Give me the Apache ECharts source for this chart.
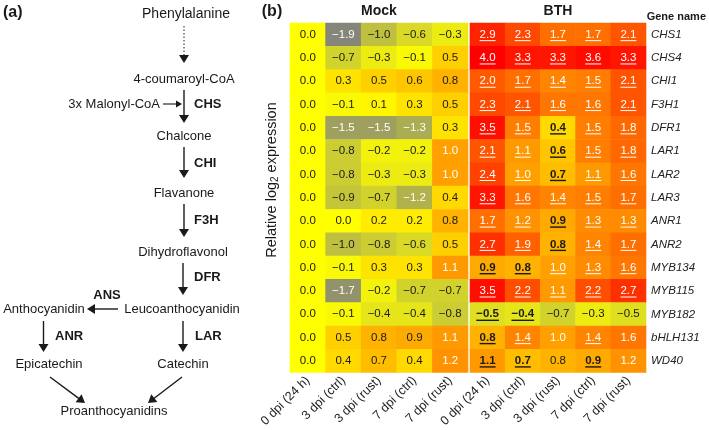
<!DOCTYPE html>
<html><head><meta charset="utf-8">
<script src="https://cdn.jsdelivr.net/npm/echarts@6/dist/echarts.min.js"></script>
<style>html,body{margin:0;padding:0;background:#fff}#c{width:709px;height:430px}</style>
</head><body><div id="c"></div>
<script>
// ---------- data ----------
const genes = ['CHS1','CHS4','CHI1','F3H1','DFR1','LAR1','LAR2','LAR3','ANR1','ANR2','MYB134','MYB115','MYB182','bHLH131','WD40'];
const timepoints = ['0 dpi (24 h)','3 dpi (ctrl)','3 dpi (rust)','7 dpi (ctrl)','7 dpi (rust)'];
const groups = ['Mock','BTH'];
const mockValues = [
  [0.0,-1.9,-1.0,-0.6,-0.3],
  [0.0,-0.7,-0.3,-0.1, 0.5],
  [0.0, 0.3, 0.5, 0.6, 0.8],
  [0.0,-0.1, 0.1, 0.3, 0.5],
  [0.0,-1.5,-1.5,-1.3, 0.3],
  [0.0,-0.8,-0.2,-0.2, 1.0],
  [0.0,-0.8,-0.3,-0.3, 1.0],
  [0.0,-0.9,-0.7,-1.2, 0.4],
  [0.0, 0.0, 0.2, 0.2, 0.8],
  [0.0,-1.0,-0.8,-0.6, 0.5],
  [0.0,-0.1, 0.3, 0.3, 1.1],
  [0.0,-1.7,-0.2,-0.7,-0.7],
  [0.0,-0.1,-0.4,-0.4,-0.8],
  [0.0, 0.5, 0.8, 0.9, 1.1],
  [0.0, 0.4, 0.7, 0.4, 1.2]
];
const bthValues = [
  [2.9, 2.3, 1.7, 1.7, 2.1],
  [4.0, 3.3, 3.3, 3.6, 3.3],
  [2.0, 1.7, 1.4, 1.5, 2.1],
  [2.3, 2.1, 1.6, 1.6, 2.1],
  [3.5, 1.5, 0.4, 1.5, 1.8],
  [2.1, 1.1, 0.6, 1.5, 1.8],
  [2.4, 1.0, 0.7, 1.1, 1.6],
  [3.3, 1.6, 1.4, 1.5, 1.7],
  [1.7, 1.2, 0.9, 1.3, 1.3],
  [2.7, 1.9, 0.8, 1.4, 1.7],
  [0.9, 0.8, 1.0, 1.3, 1.6],
  [3.5, 2.2, 1.1, 2.2, 2.7],
  [-0.5,-0.4,-0.7,-0.3,-0.5],
  [0.8, 1.4, 1.0, 1.4, 1.6],
  [1.1, 0.7, 0.8, 0.9, 1.2]
];
// significance class: 0 none, 1 significant (light mark), 2 significant (dark bold mark)
const bthSignificance = [
  [1,1,1,1,1],
  [1,1,1,1,1],
  [1,1,1,1,1],
  [1,1,1,1,1],
  [1,1,2,1,1],
  [1,1,2,1,1],
  [1,1,2,1,1],
  [1,1,1,1,1],
  [1,1,2,1,1],
  [1,1,2,1,1],
  [2,2,1,1,1],
  [1,1,1,1,1],
  [2,2,0,0,0],
  [2,1,0,1,0],
  [2,2,0,2,0]
];

// ---------- helpers ----------
function toItems(values, sig) {
  const out = [];
  values.forEach((row, r) => row.forEach((v, c) => out.push([c, r, v, sig ? sig[r][c] : 0])));
  return out;
}
const FONT = '"Liberation Sans", Arial, sans-serif';
const mctx = document.createElement('canvas').getContext('2d');
function tw(str, font) { mctx.font = font; return mctx.measureText(str).width; }
function fmt(v) { return (v < 0 ? '\u2212' : '') + Math.abs(v).toFixed(1); }

function renderCell(params, api) {
  const col = api.value(0), row = api.value(1), v = api.value(2), sig = api.value(3);
  const c = api.coord([col, row]);
  const s = api.size([1, 1]);
  const color = api.visual('color');
  const label = fmt(v);
  let fill, bold = false, under = false;
  if (sig === 2) { fill = '#1a1a1a'; bold = true; under = true; }
  else if (sig === 1) { fill = '#ffffff'; under = true; }
  else fill = (v >= 1.0 || v <= -1.1) ? '#ffffff' : '#1a1a1a';
  const fsize = 11.5;
  const font = (bold ? 'bold ' : '') + fsize + 'px ' + FONT;
  const children = [
    { type: 'rect', shape: { x: c[0] - s[0] / 2 - 0.3, y: c[1] - s[1] / 2 - 0.3, width: s[0] + 0.6, height: s[1] + 0.6 },
      style: { fill: color } },
    { type: 'text', style: { text: label, x: c[0], y: c[1], font: font, fill: fill, align: 'center', verticalAlign: 'middle' } }
  ];
  if (under) {
    const w = tw(label, font);
    const uy = c[1] + 6;
    children.push({ type: 'line', shape: { x1: c[0] - w / 2, y1: uy, x2: c[0] + w / 2, y2: uy },
      style: { stroke: fill, lineWidth: bold ? 1.4 : 1 } });
  }
  return { type: 'group', children: children };
}

// ---------- pathway diagram (panel a) ----------
const INK = '#1a1a1a';
function txt(t, x, y, o) {
  o = o || {};
  return { type: 'text', silent: true, style: { text: t, x: x, y: y, fill: INK,
    font: (o.bold ? 'bold ' : '') + (o.size || 13) + 'px ' + FONT, align: o.align || 'center', verticalAlign: 'middle' } };
}
function arrow(x1, y1, x2, y2, o) {
  o = o || {};
  const len = o.head || 8, hw = o.hw || 5;
  const dx = x2 - x1, dy = y2 - y1, L = Math.hypot(dx, dy), ux = dx / L, uy = dy / L;
  const bx = x2 - ux * len, by = y2 - uy * len;
  return [
    { type: 'line', silent: true, shape: { x1: x1, y1: y1, x2: bx + ux, y2: by + uy },
      style: { stroke: INK, lineWidth: o.lw || 1.4, lineDash: o.dash || null } },
    { type: 'polygon', silent: true, shape: { points: [[x2, y2], [bx - uy * hw, by + ux * hw], [bx + uy * hw, by - ux * hw]] },
      style: { fill: INK } }
  ];
}
const diagram = [].concat(
  [txt('(a)', 3, 13, { bold: true, size: 16, align: 'left' })],
  [txt('Phenylalanine', 186, 14, { size: 14 })],
  arrow(184, 26, 184, 63, { dash: [1.5, 2], lw: 1 }),
  [txt('4-coumaroyl-CoA', 184, 79)],
  arrow(184, 90, 184, 123),
  [txt('CHS', 194, 104, { bold: true, align: 'left' })],
  [txt('3x Malonyl-CoA', 160, 104, { align: 'right' })],
  arrow(163, 104, 182, 104, { lw: 1.1, head: 6, hw: 3.5 }),
  [txt('Chalcone', 184, 136)],
  arrow(184, 147, 184, 178),
  [txt('CHI', 194, 163, { bold: true, align: 'left' })],
  [txt('Flavanone', 184, 193)],
  arrow(184, 204, 184, 237),
  [txt('F3H', 194, 220, { bold: true, align: 'left' })],
  [txt('Dihydroflavonol', 183, 252)],
  arrow(183, 263, 183, 295),
  [txt('DFR', 194, 277, { bold: true, align: 'left' })],
  [txt('Leucoanthocyanidin', 182, 309)],
  arrow(118, 309, 87, 309),
  [txt('ANS', 107, 295, { bold: true })],
  [txt('Anthocyanidin', 44, 309)],
  arrow(43.5, 321, 43.5, 352),
  [txt('ANR', 55, 336, { bold: true, align: 'left' })],
  arrow(183, 321, 183, 352),
  [txt('LAR', 195, 336, { bold: true, align: 'left' })],
  [txt('Epicatechin', 49, 364)],
  [txt('Catechin', 183, 364)],
  arrow(50, 377, 85, 403),
  arrow(182, 377, 148, 403),
  [txt('Proanthocyanidins', 114, 411)],
  // panel b labels
  [txt('(b)', 272, 12, { bold: true, size: 16 })],
  [txt(groups[0], 379, 11, { bold: true, size: 14 })],
  [txt(groups[1], 558, 11, { bold: true, size: 14 })],
  [txt('Gene name', 706, 17, { bold: true, size: 11, align: 'right' })],
  [{ type: 'text', silent: true, x: 272, y: 180, rotation: Math.PI / 2,
     style: { text: 'Relative log{s|2} expression', fill: INK, font: '14.5px ' + FONT,
       align: 'center', verticalAlign: 'middle',
       rich: { s: { fontSize: 10, fontFamily: FONT, verticalAlign: 'bottom', padding: [6, 0, 0, 0] } } } }]
);

// ---------- chart ----------
const chart = echarts.init(document.getElementById('c'), null, { renderer: 'canvas' });
const xAxisCommon = {
  type: 'category', data: timepoints,
  axisLine: { show: false }, axisTick: { show: false }, splitLine: { show: false },
  axisLabel: { rotate: 45, interval: 0, fontSize: 12.5, fontFamily: FONT, color: '#222', margin: 6 }
};
chart.setOption({
  animation: false,
  backgroundColor: '#ffffff',
  grid: [
    { left: 290, top: 23, width: 178, height: 350 },
    { left: 470, top: 23, width: 176, height: 350 }
  ],
  xAxis: [
    Object.assign({ gridIndex: 0 }, xAxisCommon),
    Object.assign({ gridIndex: 1 }, xAxisCommon)
  ],
  yAxis: [
    { gridIndex: 0, type: 'category', data: genes, inverse: true,
      axisLine: { show: false }, axisTick: { show: false }, axisLabel: { show: false }, splitLine: { show: false } },
    { gridIndex: 1, type: 'category', data: genes, inverse: true, position: 'right',
      axisLine: { show: false }, axisTick: { show: false }, splitLine: { show: false },
      axisLabel: { fontStyle: 'italic', fontSize: 11.5, fontFamily: FONT, color: '#222', margin: 5, align: 'left' } }
  ],
  visualMap: {
    type: 'continuous', show: false, min: -2, max: 4, dimension: 2, seriesIndex: [0, 1],
    inRange: { color: ['#7f7f7f', '#bfbf40', '#ffff00', '#ffa000', '#ff5a00', '#ff1e00', '#ff0000'] }
  },
  series: [
    { type: 'custom', name: groups[0], xAxisIndex: 0, yAxisIndex: 0, renderItem: renderCell,
      encode: { x: 0, y: 1 }, data: toItems(mockValues, null) },
    { type: 'custom', name: groups[1], xAxisIndex: 1, yAxisIndex: 1, renderItem: renderCell,
      encode: { x: 0, y: 1 }, data: toItems(bthValues, bthSignificance) }
  ],
  graphic: { elements: diagram }
});
</script></body></html>
